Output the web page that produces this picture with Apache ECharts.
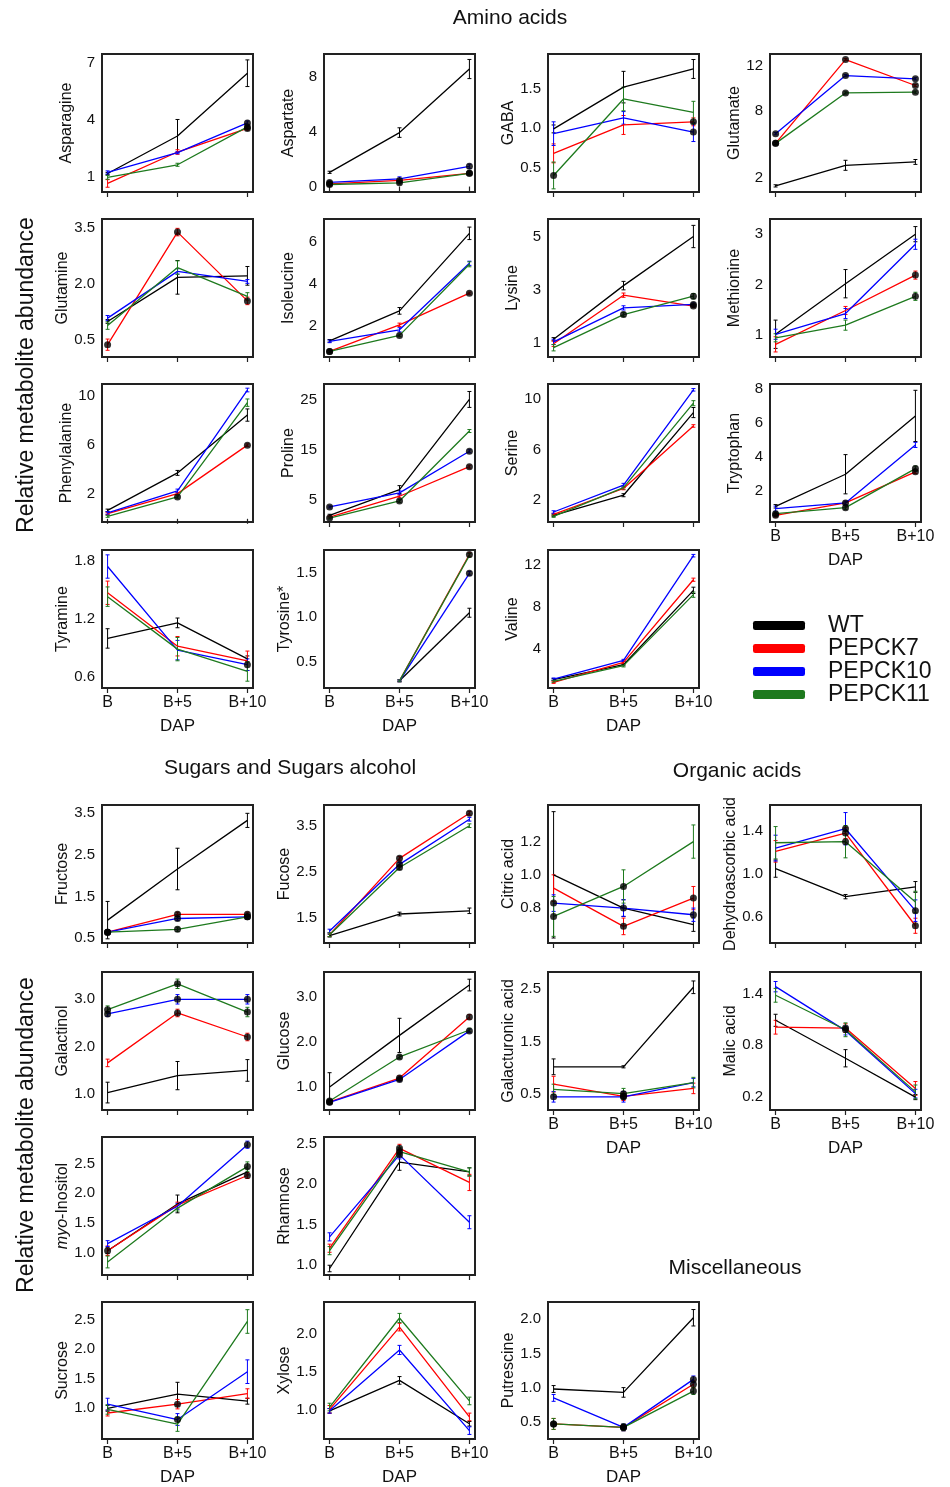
<!DOCTYPE html>
<html>
<head>
<meta charset="utf-8">
<script src="https://cdn.jsdelivr.net/npm/echarts@6/dist/echarts.min.js"></script>
<style>
  html, body { margin: 0; padding: 0; background: #fff; }
  #chart { width: 950px; height: 1487px; }
</style>
</head>
<body>
<div id="chart"></div>
<script>
// x categories and genotypes
const dap = ['B', 'B+5', 'B+10'];
const genotypes = ['WT', 'PEPCK7', 'PEPCK10', 'PEPCK11'];
const colors = ['#000000', '#ff0000', '#0000ff', '#1e7a1e'];

// each metabolite: rows = WT, PEPCK7, PEPCK10, PEPCK11 ; cols = B, B+5, B+10
const asparagine = [[1.17, 3.14, 6.44], [0.65, 2.3, 3.54], [1.23, 2.27, 3.83], [0.97, 1.63, 3.62]];
const asparagineErr = [[0.06, 0.87, 0.7], [0.2, 0.12, 0.1], [0.08, 0.06, 0.1], [0.1, 0.08, 0.08]];
const asparagineTicks = ['1', '4', '7'];
const asparagineDots = [[1, 2], [2, 2], [3, 2]];

const aspartate = [[1.04, 3.95, 8.6], [0.2, 0.45, 0.97], [0.3, 0.56, 1.48], [0.15, 0.27, 0.97]];
const aspartateErr = [[0.08, 0.35, 0.7], [0.1, 0.1, 0.1], [0.1, 0.15, 0.15], [0.1, 0.1, 0.1]];
const aspartateTicks = ['0', '4', '8'];
const aspartateDots = [[1, 0], [2, 0], [3, 0], [1, 1], [3, 1], [1, 2], [2, 2], [3, 2]];

const gaba = [[0.99, 1.52, 1.75], [0.68, 1.04, 1.08], [0.93, 1.13, 0.95], [0.4, 1.37, 1.2]];
const gabaErr = [[0.05, 0.2, 0.12], [0.12, 0.12, 0.05], [0.15, 0.08, 0.12], [0.17, 0.15, 0.14]];
const gabaTicks = ['0.5', '1.0', '1.5'];
const gabaDots = [[3, 0], [1, 2], [2, 2]];

const glutamate = [[1.25, 3.1, 3.4], [5.07, 12.6, 10.27], [5.94, 11.16, 10.87], [5.07, 9.6, 9.67]];
const glutamateErr = [[0.1, 0.45, 0.22], [0.1, 0.1, 0.1], [0.1, 0.1, 0.1], [0.1, 0.1, 0.1]];
const glutamateTicks = ['2', '8', '12'];
const glutamateDots = [[1, 0], [2, 0], [3, 0], [1, 1], [2, 1], [3, 1], [1, 2], [2, 2], [3, 2]];

const glutamine = [[0.99, 2.17, 2.21], [0.37, 3.38, 1.54], [1.08, 2.33, 2.06], [0.88, 2.43, 1.66]];
const glutamineErr = [[0.05, 0.45, 0.25], [0.15, 0.1, 0.1], [0.07, 0.07, 0.05], [0.1, 0.18, 0.1]];
const glutamineTicks = ['0.5', '2.0', '3.5'];
const glutamineDots = [[1, 0], [1, 1], [1, 2]];

const isoleucine = [[1.26, 2.7, 6.43], [0.75, 2.03, 3.55], [1.23, 1.79, 4.99], [0.75, 1.52, 4.94]];
const isoleucineErr = [[0.06, 0.16, 0.3], [0.05, 0.08, 0.05], [0.06, 0.1, 0.1], [0.05, 0.06, 0.12]];
const isoleucineTicks = ['2', '4', '6'];
const isoleucineDots = [[1, 0], [3, 0], [3, 1], [1, 2]];

const lysine = [[1.13, 3.15, 5.0], [0.96, 2.79, 2.38], [1.03, 2.31, 2.44], [0.81, 2.06, 2.75]];
const lysineErr = [[0.06, 0.16, 0.42], [0.1, 0.08, 0.05], [0.1, 0.08, 0.06], [0.12, 0.08, 0.1]];
const lysineTicks = ['1', '3', '5'];
const lysineDots = [[3, 1], [3, 2], [1, 2], [2, 2]];

const methionine = [[1.02, 2.02, 3.0], [0.82, 1.49, 2.19], [1.02, 1.43, 2.8], [0.95, 1.2, 1.77]];
const methionineErr = [[0.28, 0.28, 0.15], [0.15, 0.08, 0.08], [0.1, 0.1, 0.1], [0.08, 0.1, 0.08]];
const methionineTicks = ['1', '2', '3'];
const methionineDots = [[1, 2], [3, 2]];

const phenylalanine = [[0.69, 3.74, 8.45], [0.42, 2.05, 6.0], [0.48, 2.27, 10.49], [0.2, 1.78, 9.46]];
const phenylalanineErr = [[0.1, 0.2, 0.5], [0.08, 0.1, 0.1], [0.1, 0.15, 0.15], [0.08, 0.1, 0.3]];
const phenylalanineTicks = ['2', '6', '10'];
const phenylalanineDots = [[3, 1], [1, 2]];

const proline = [[1.85, 7.0, 25.1], [1.5, 5.67, 11.6], [3.52, 6.34, 14.7], [1.3, 4.73, 18.76]];
const prolineErr = [[0.2, 0.8, 1.6], [0.2, 0.3, 0.3], [0.2, 0.4, 0.3], [0.2, 0.3, 0.3]];
const prolineTicks = ['5', '15', '25'];
const prolineDots = [[2, 0], [3, 0], [3, 1], [2, 2], [1, 2]];

const serine = [[0.81, 2.4, 8.94], [0.89, 2.93, 7.88], [1.07, 3.19, 10.74], [0.73, 3.0, 9.68]];
const serineErr = [[0.08, 0.12, 0.4], [0.08, 0.1, 0.1], [0.1, 0.15, 0.1], [0.08, 0.12, 0.2]];
const serineTicks = ['2', '6', '10'];
const serineDots = [];

const tryptophan = [[1.1, 2.98, 6.4], [0.57, 1.3, 3.12], [0.96, 1.3, 4.7], [0.67, 1.02, 3.31]];
const tryptophanErr = [[0.1, 1.15, 1.5], [0.1, 0.1, 0.1], [0.15, 0.1, 0.15], [0.1, 0.1, 0.15]];
const tryptophanTicks = ['2', '4', '6', '8'];
const tryptophanDots = [[1, 0], [3, 0], [1, 1], [3, 1], [1, 2], [3, 2]];

const tyramine = [[1.0, 1.16, 0.79], [1.47, 0.92, 0.77], [1.74, 0.88, 0.73], [1.43, 0.89, 0.66]];
const tyramineErr = [[0.1, 0.05, 0.03], [0.12, 0.1, 0.1], [0.12, 0.1, 0.06], [0.1, 0.12, 0.1]];
const tyramineTicks = ['0.6', '1.2', '1.8'];
const tyramineDots = [[2, 2]];

const tyrosine = [[null, 0.29, 1.05], [null, 0.29, 1.7], [null, 0.29, 1.49], [null, 0.29, 1.69]];
const tyrosineErr = [[0, 0.01, 0.05], [0, 0.01, 0.02], [0, 0.01, 0.02], [0, 0.01, 0.02]];
const tyrosineTicks = ['0.5', '1.0', '1.5'];
const tyrosineDots = [[1, 2], [2, 2]];

const valine = [[1.09, 2.51, 9.57], [0.84, 2.73, 10.58], [1.15, 2.92, 12.86], [0.93, 2.42, 9.16]];
const valineErr = [[0.1, 0.1, 0.3], [0.1, 0.1, 0.15], [0.1, 0.1, 0.12], [0.1, 0.12, 0.25]];
const valineTicks = ['4', '8', '12'];
const valineDots = [];

const fructose = [[0.93, 2.16, 3.33], [0.64, 1.07, 1.07], [0.64, 0.97, 1.01], [0.64, 0.71, 1.01]];
const fructoseErr = [[0.45, 0.5, 0.17], [0.05, 0.05, 0.05], [0.05, 0.05, 0.05], [0.05, 0.05, 0.05]];
const fructoseTicks = ['0.5', '1.5', '2.5', '3.5'];
const fructoseDots = [[1, 0], [2, 0], [3, 0], [1, 1], [2, 1], [3, 1], [1, 2], [2, 2], [3, 2]];

const fucose = [[1.11, 1.58, 1.65], [1.13, 2.79, 3.77], [1.21, 2.66, 3.64], [1.13, 2.59, 3.5]];
const fucoseErr = [[0.03, 0.04, 0.06], [0.04, 0.04, 0.04], [0.04, 0.04, 0.04], [0.04, 0.04, 0.04]];
const fucoseTicks = ['1.5', '2.5', '3.5'];
const fucoseDots = [[1, 1], [2, 1], [3, 1], [1, 2]];

const citric = [[1.0, 0.8, 0.7], [0.92, 0.69, 0.86], [0.83, 0.8, 0.76], [0.75, 0.93, 1.2]];
const citricErr = [[0.38, 0.05, 0.04], [0.08, 0.05, 0.07], [0.05, 0.05, 0.04], [0.12, 0.1, 0.1]];
const citricTicks = ['0.8', '1.0', '1.2'];
const citricDots = [[2, 0], [3, 0], [3, 1], [2, 1], [1, 1], [1, 2], [2, 2]];

const dehydro = [[1.05, 0.79, 0.88], [1.21, 1.38, 0.52], [1.24, 1.42, 0.66], [1.29, 1.3, 0.74]];
const dehydroErr = [[0.08, 0.02, 0.05], [0.1, 0.05, 0.07], [0.12, 0.15, 0.1], [0.15, 0.15, 0.1]];
const dehydroTicks = ['0.6', '1.0', '1.4'];
const dehydroDots = [[1, 1], [2, 1], [3, 1], [1, 2], [2, 2]];

const galactinol = [[1.02, 1.38, 1.49], [1.65, 2.71, 2.2], [2.69, 3.0, 3.0], [2.78, 3.33, 2.73]];
const galactinolErr = [[0.22, 0.3, 0.23], [0.08, 0.08, 0.08], [0.05, 0.1, 0.1], [0.08, 0.1, 0.1]];
const galactinolTicks = ['1.0', '2.0', '3.0'];
const galactinolDots = [[2, 0], [3, 0], [1, 1], [2, 1], [3, 1], [1, 2], [2, 2], [3, 2]];

const glucose = [[1.0, 2.15, 3.27], [0.67, 1.2, 2.56], [0.66, 1.17, 2.25], [0.69, 1.67, 2.27]];
const glucoseErr = [[0.32, 0.38, 0.13], [0.04, 0.05, 0.05], [0.04, 0.04, 0.04], [0.04, 0.04, 0.04]];
const glucoseTicks = ['1.0', '2.0', '3.0'];
const glucoseDots = [[1, 0], [2, 0], [3, 0], [1, 1], [2, 1], [3, 1], [1, 2], [2, 2]];

const galacturonic = [[1.02, 1.02, 2.53], [0.69, 0.46, 0.61], [0.45, 0.45, 0.72], [0.59, 0.51, 0.72]];
const galacturonicErr = [[0.15, 0.02, 0.12], [0.15, 0.08, 0.1], [0.1, 0.1, 0.08], [0.1, 0.1, 0.1]];
const galacturonicTicks = ['0.5', '1.5', '2.5'];
const galacturonicDots = [[2, 0], [1, 1], [2, 1], [3, 1]];

const malic = [[1.09, 0.65, 0.2], [1.01, 1.0, 0.3], [1.48, 0.97, 0.24], [1.38, 0.98, 0.26]];
const malicErr = [[0.07, 0.1, 0.03], [0.08, 0.05, 0.08], [0.06, 0.05, 0.05], [0.08, 0.08, 0.08]];
const malicTicks = ['0.2', '0.8', '1.4'];
const malicDots = [[1, 1], [3, 1]];

const inositol = [[1.03, 1.82, 2.36], [1.03, 1.8, 2.3], [1.15, 1.78, 2.82], [0.84, 1.75, 2.45]];
const inositolErr = [[0.05, 0.15, 0.05], [0.08, 0.05, 0.05], [0.05, 0.05, 0.06], [0.1, 0.05, 0.08]];
const inositolTicks = ['1.0', '1.5', '2.0', '2.5'];
const inositolDots = [[1, 0], [1, 2], [2, 2], [3, 2]];

const rhamnose = [[0.96, 2.27, 2.15], [1.21, 2.44, 2.02], [1.35, 2.36, 1.53], [1.18, 2.4, 2.15]];
const rhamnoseErr = [[0.04, 0.1, 0.05], [0.05, 0.05, 0.1], [0.05, 0.05, 0.08], [0.05, 0.05, 0.05]];
const rhamnoseTicks = ['1.0', '1.5', '2.0', '2.5'];
const rhamnoseDots = [[1, 1], [2, 1], [3, 1]];

const sucrose = [[1.0, 1.24, 1.12], [0.92, 1.07, 1.25], [1.07, 0.81, 1.62], [0.98, 0.73, 2.47]];
const sucroseErr = [[0.05, 0.2, 0.05], [0.05, 0.08, 0.08], [0.1, 0.1, 0.2], [0.08, 0.12, 0.2]];
const sucroseTicks = ['1.0', '1.5', '2.0', '2.5'];
const sucroseDots = [[1, 1], [2, 1]];

const xylose = [[0.99, 1.39, 0.82], [1.01, 2.09, 0.91], [0.99, 1.79, 0.73], [1.04, 2.21, 1.12]];
const xyloseErr = [[0.03, 0.05, 0.03], [0.05, 0.05, 0.05], [0.03, 0.06, 0.05], [0.05, 0.06, 0.05]];
const xyloseTicks = ['1.0', '1.5', '2.0'];
const xyloseDots = [];

const putrescine = [[0.98, 0.93, 2.02], [0.47, 0.42, 1.05], [0.85, 0.42, 1.12], [0.47, 0.42, 0.95]];
const putrescineErr = [[0.05, 0.07, 0.12], [0.08, 0.05, 0.05], [0.05, 0.05, 0.05], [0.08, 0.05, 0.05]];
const putrescineTicks = ['0.5', '1.0', '1.5', '2.0'];
const putrescineDots = [[1, 0], [3, 0], [1, 1], [2, 1], [3, 1], [1, 2], [2, 2], [3, 2]];

// panel layout
const colX = [102, 324, 548, 770];
const panels = [
    { name: 'Asparagine', v: asparagine, e: asparagineErr, t: asparagineTicks, d: asparagineDots, x: colX[0], y: 54, min: 0.2, max: 7.45 },
    { name: 'Aspartate', v: aspartate, e: aspartateErr, t: aspartateTicks, d: aspartateDots, x: colX[1], y: 54, min: -0.4, max: 9.7 },
    { name: 'GABA', v: gaba, e: gabaErr, t: gabaTicks, d: gabaDots, x: colX[2], y: 54, min: 0.19, max: 1.94 },
    { name: 'Glutamate', v: glutamate, e: glutamateErr, t: glutamateTicks, d: glutamateDots, x: colX[3], y: 54, min: 0.7, max: 13.1 },
    { name: 'Glutamine', v: glutamine, e: glutamineErr, t: glutamineTicks, d: glutamineDots, x: colX[0], y: 219, min: 0.04, max: 3.73 },
    { name: 'Isoleucine', v: isoleucine, e: isoleucineErr, t: isoleucineTicks, d: isoleucineDots, x: colX[1], y: 219, min: 0.48, max: 7.12 },
    { name: 'Lysine', v: lysine, e: lysineErr, t: lysineTicks, d: lysineDots, x: colX[2], y: 219, min: 0.46, max: 5.66 },
    { name: 'Methionine', v: methionine, e: methionineErr, t: methionineTicks, d: methionineDots, x: colX[3], y: 219, min: 0.57, max: 3.3 },
    { name: 'Phenylalanine', v: phenylalanine, e: phenylalanineErr, t: phenylalanineTicks, d: phenylalanineDots, x: colX[0], y: 384, min: -0.26, max: 10.98 },
    { name: 'Proline', v: proline, e: prolineErr, t: prolineTicks, d: prolineDots, x: colX[1], y: 384, min: 0.5, max: 28.2 },
    { name: 'Serine', v: serine, e: serineErr, t: serineTicks, d: serineDots, x: colX[2], y: 384, min: 0.28, max: 11.2 },
    { name: 'Tryptophan', v: tryptophan, e: tryptophanErr, t: tryptophanTicks, d: tryptophanDots, x: colX[3], y: 384, min: 0.18, max: 8.27, xlab: true },
    { name: 'Tyramine', v: tyramine, e: tyramineErr, t: tyramineTicks, d: tyramineDots, x: colX[0], y: 550, min: 0.49, max: 1.91, xlab: true },
    { name: 'Tyrosine*', v: tyrosine, e: tyrosineErr, t: tyrosineTicks, d: tyrosineDots, x: colX[1], y: 550, min: 0.21, max: 1.75, xlab: true },
    { name: 'Valine', v: valine, e: valineErr, t: valineTicks, d: valineDots, x: colX[2], y: 550, min: 0.3, max: 13.4, xlab: true },

    { name: 'Fructose', v: fructose, e: fructoseErr, t: fructoseTicks, d: fructoseDots, x: colX[0], y: 805, min: 0.38, max: 3.7 },
    { name: 'Fucose', v: fucose, e: fucoseErr, t: fucoseTicks, d: fucoseDots, x: colX[1], y: 805, min: 0.95, max: 3.95 },
    { name: 'Citric acid', v: citric, e: citricErr, t: citricTicks, d: citricDots, x: colX[2], y: 805, min: 0.59, max: 1.42 },
    { name: 'Dehydroascorbic acid', v: dehydro, e: dehydroErr, t: dehydroTicks, d: dehydroDots, x: colX[3], y: 805, min: 0.36, max: 1.64 },
    { name: 'Galactinol', v: galactinol, e: galactinolErr, t: galactinolTicks, d: galactinolDots, x: colX[0], y: 972, min: 0.65, max: 3.58 },
    { name: 'Glucose', v: glucose, e: glucoseErr, t: glucoseTicks, d: glucoseDots, x: colX[1], y: 972, min: 0.49, max: 3.56 },
    { name: 'Galacturonic acid', v: galacturonic, e: galacturonicErr, t: galacturonicTicks, d: galacturonicDots, x: colX[2], y: 972, min: 0.2, max: 2.82, xlab: true },
    { name: 'Malic acid', v: malic, e: malicErr, t: malicTicks, d: malicDots, x: colX[3], y: 972, min: 0.05, max: 1.65, xlab: true },
    { name: '{i|myo}-Inositol', v: inositol, e: inositolErr, t: inositolTicks, d: inositolDots, x: colX[0], y: 1137, min: 0.62, max: 2.95 },
    { name: 'Rhamnose', v: rhamnose, e: rhamnoseErr, t: rhamnoseTicks, d: rhamnoseDots, x: colX[1], y: 1137, min: 0.88, max: 2.58 },
    { name: 'Sucrose', v: sucrose, e: sucroseErr, t: sucroseTicks, d: sucroseDots, x: colX[0], y: 1302, min: 0.48, max: 2.8, xlab: true },
    { name: 'Xylose', v: xylose, e: xyloseErr, t: xyloseTicks, d: xyloseDots, x: colX[1], y: 1302, min: 0.62, max: 2.42, xlab: true },
    { name: 'Putrescine', v: putrescine, e: putrescineErr, t: putrescineTicks, d: putrescineDots, x: colX[2], y: 1302, min: 0.25, max: 2.25, xlab: true }
];

const FONT = '"Liberation Sans", Arial, sans-serif';
const grids = [], xAxes = [], yAxes = [], series = [];

panels.forEach(function (p, i) {
    grids.push({
        left: p.x, top: p.y, width: 151, height: 138,
        show: true, borderColor: '#222', borderWidth: 2, backgroundColor: 'transparent'
    });
    xAxes.push({
        type: 'value', gridIndex: i, min: -0.08, max: 2.08,
        axisLine: { show: false },
        splitLine: { show: false },
        axisTick: { show: true, customValues: [0, 1, 2], length: 5, lineStyle: { color: '#222', width: 1.2 } },
        axisLabel: {
            show: !!p.xlab, customValues: [0, 1, 2], fontSize: 16, color: '#111', margin: 7,
            formatter: function (v) { return dap[Math.round(v)]; }
        },
        name: p.xlab ? 'DAP' : '', nameLocation: 'middle', nameGap: 30,
        nameTextStyle: { fontSize: 17, color: '#111' }
    });
    yAxes.push({
        type: 'value', gridIndex: i, min: p.min, max: p.max,
        axisLine: { show: false },
        axisTick: { show: false },
        splitLine: { show: false },
        axisLabel: {
            customValues: p.t.map(Number), fontSize: 15, color: '#111', margin: 7,
            formatter: function (v) {
                const s = p.t.find(function (t) { return Math.abs(Number(t) - v) < 1e-9; });
                return s === undefined ? '' : s;
            }
        },
        name: p.name, nameLocation: 'middle', nameGap: 27,
        nameTextStyle: { fontSize: 16, color: '#111', rich: { i: { fontSize: 16, fontStyle: 'italic', color: '#111' } } }
    });

    // error bars
    const errData = [];
    p.v.forEach(function (row, g) {
        row.forEach(function (val, k) {
            if (val == null) return;
            errData.push([k, val - p.e[g][k], val + p.e[g][k], g]);
        });
    });
    series.push({
        type: 'custom', xAxisIndex: i, yAxisIndex: i, silent: true, z: 2,
        encode: { x: 0, y: [1, 2] },
        data: errData,
        renderItem: function (params, api) {
            const lo = api.coord([api.value(0), api.value(1)]);
            const hi = api.coord([api.value(0), api.value(2)]);
            const c = colors[api.value(3)];
            const w = 2;
            const st = { stroke: c, lineWidth: 1 };
            return {
                type: 'group', children: [
                    { type: 'line', shape: { x1: lo[0], y1: lo[1], x2: hi[0], y2: hi[1] }, style: st },
                    { type: 'line', shape: { x1: lo[0] - w, y1: lo[1], x2: lo[0] + w, y2: lo[1] }, style: st },
                    { type: 'line', shape: { x1: hi[0] - w, y1: hi[1], x2: hi[0] + w, y2: hi[1] }, style: st }
                ]
            };
        }
    });

    // genotype lines
    p.v.forEach(function (row, g) {
        series.push({
            type: 'line', name: genotypes[g], xAxisIndex: i, yAxisIndex: i,
            data: row.map(function (val, k) { return [k, val == null ? '-' : val]; }),
            showSymbol: false, silent: true, z: 3,
            color: colors[g],
            lineStyle: { color: colors[g], width: 1.3 }
        });
    });

    // black dots
    series.push({
        type: 'scatter', xAxisIndex: i, yAxisIndex: i, silent: true, z: 4,
        symbolSize: 7, itemStyle: { color: '#000' },
        data: p.d.map(function (pt) { return [pt[1], p.v[pt[0]][pt[1]]]; })
    });
});

function label(text, x, y, size, rot) {
    return {
        type: 'text', x: x, y: y, rotation: rot || 0,
        style: { text: text, fontSize: size, fontFamily: FONT, fill: '#111', textAlign: 'center', textVerticalAlign: 'middle' }
    };
}

const option = {
    animation: false,
    textStyle: { fontFamily: FONT },
    grid: grids,
    xAxis: xAxes,
    yAxis: yAxes,
    series: series,
    legend: {
        data: genotypes, orient: 'vertical', left: 753, top: 614,
        icon: 'roundRect', itemWidth: 52, itemHeight: 9, itemGap: 0, padding: 0,
        textStyle: { fontSize: 23, color: '#111', lineHeight: 21, padding: [0, 0, 0, 18] },
        selectedMode: false
    },
    graphic: [
        label('Amino acids', 510, 18, 21),
        label('Sugars and Sugars alcohol', 290, 768, 21),
        label('Organic acids', 737, 771, 21),
        label('Miscellaneous', 735, 1268, 21),
        label('Relative metabolite abundance', 27, 375, 23, Math.PI / 2),
        label('Relative metabolite abundance', 27, 1135, 23, Math.PI / 2)
    ]
};

const chart = echarts.init(document.getElementById('chart'));
chart.setOption(option);
</script>
</body>
</html>
